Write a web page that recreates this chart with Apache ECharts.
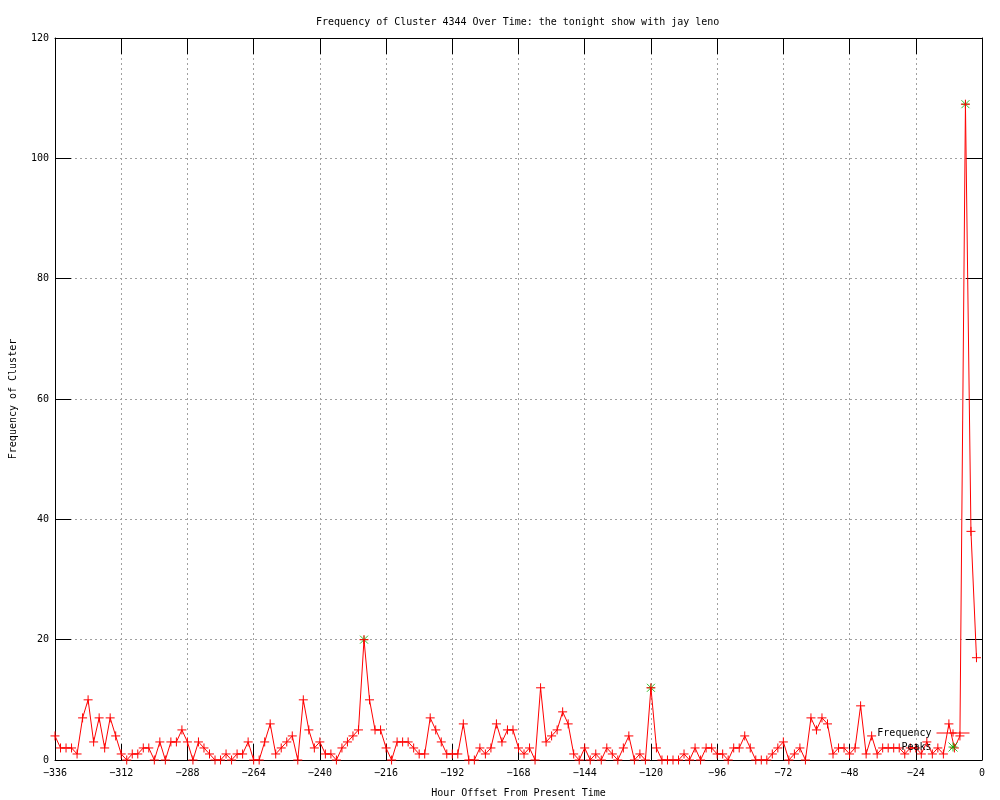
<!DOCTYPE html>
<html>
<head>
<meta charset="utf-8">
<script src="https://cdn.jsdelivr.net/npm/echarts@6/dist/echarts.min.js"></script>
<style>html,body{margin:0;padding:0;background:#fff;}#c{width:1000px;height:800px;}</style>
</head>
<body>
<div id="c"></div>
<script>
var titleText = 'Frequency of Cluster 4344 Over Time: the tonight show with jay leno';
var xAxisName = 'Hour Offset From Present Time';
var yAxisName = 'Frequency of Cluster';

var hours = [
  -336,-334,-332,-330,-328,-326,-324,-322,-320,-318,-316,-314,-312,-310,-308,-306,-304,-302,-300,-298,
  -296,-294,-292,-290,-288,-286,-284,-282,-280,-278,-276,-274,-272,-270,-268,-266,-264,-262,-260,-258,
  -256,-254,-252,-250,-248,-246,-244,-242,-240,-238,-236,-234,-232,-230,-228,-226,-224,-222,-220,-218,
  -216,-214,-212,-210,-208,-206,-204,-202,-200,-198,-196,-194,-192,-190,-188,-186,-184,-182,-180,-178,
  -176,-174,-172,-170,-168,-166,-164,-162,-160,-158,-156,-154,-152,-150,-148,-146,-144,-142,-140,-138,
  -136,-134,-132,-130,-128,-126,-124,-122,-120,-118,-116,-114,-112,-110,-108,-106,-104,-102,-100,-98,
  -96,-94,-92,-90,-88,-86,-84,-82,-80,-78,-76,-74,-72,-70,-68,-66,-64,-62,-60,-58,
  -56,-54,-52,-50,-48,-46,-44,-42,-40,-38,-36,-34,-32,-30,-28,-26,-24,-22,-20,-18,
  -16,-14,-12,-10,-8,-6,-4,-2
];
var frequency = [
  4,2,2,2,1,7,10,3,7,2,7,4,1,0,1,1,2,2,0,3,
  0,3,3,5,3,0,3,2,1,0,0,1,0,1,1,3,0,0,3,6,
  1,2,3,4,0,10,5,2,3,1,1,0,2,3,4,5,20,10,5,5,
  2,0,3,3,3,2,1,1,7,5,3,1,1,1,6,0,0,2,1,2,
  6,3,5,5,2,1,2,0,12,3,4,5,8,6,1,0,2,0,1,0,
  2,1,0,2,4,0,1,0,12,2,0,0,0,0,1,0,2,0,2,2,
  1,1,0,2,2,4,2,0,0,0,1,2,3,0,1,2,0,7,5,7,
  6,1,2,2,1,2,9,1,4,1,2,2,2,2,1,2,2,1,3,1,
  2,1,6,2,4,109,38,17
];
var peakHours = [-224, -120, -6];
var peakValues = [20, 12, 109];

var xTicks = [-336,-312,-288,-264,-240,-216,-192,-168,-144,-120,-96,-72,-48,-24,0];
var yTicks = [0,20,40,60,80,100,120];

var freqData = hours.map(function (h, i) { return [h, frequency[i]]; });
var peakData = peakHours.map(function (h, i) { return [h, peakValues[i]]; });

var FONT = 'DejaVu Sans Mono';
var plusPath = 'path://M0,5L10,5M5,0L5,10';
var starPath = 'path://M0,0L10,10M10,0L0,10M0,5L10,5M5,0L5,10';

function fmtNum(v) { return String(v).replace('-', '\u2212'); }

var chart = echarts.init(document.getElementById('c'), null, {renderer: 'canvas'});
var gridLine = {show: true, lineStyle: {color: '#a0a0a0', type: [2, 3], width: 1}};
var tickStyle = {show: true, inside: true, length: 16, lineStyle: {color: '#000', width: 1}};
var axisLineStyle = {show: true, onZero: false, lineStyle: {color: '#000', width: 1}};

chart.setOption({
  animation: false,
  backgroundColor: '#fff',
  title: {
    text: titleText,
    left: 311,
    top: 12,
    textStyle: {fontFamily: FONT, fontSize: 10, fontWeight: 'normal', color: '#000'}
  },
  legend: {
    orient: 'vertical',
    align: 'right',
    right: 30,
    top: 728,
    itemWidth: 33,
    itemHeight: 9,
    itemGap: 4,
    padding: 0,
    data: ['Frequency', 'Peaks'],
    lineStyle: {width: 1},
    itemStyle: {borderWidth: 1},
    textStyle: {fontFamily: FONT, fontSize: 10, color: '#000'}
  },
  grid: {left: 55, right: 18, top: 38, bottom: 40, containLabel: false, outerBoundsMode: 'none'},
  xAxis: [{
    type: 'value',
    position: 'bottom',
    min: -336, max: 0, interval: 24,
    name: xAxisName,
    nameLocation: 'middle',
    nameGap: 28,
    nameTextStyle: {fontFamily: FONT, fontSize: 10, color: '#000'},
    axisLine: axisLineStyle,
    axisTick: tickStyle,
    axisLabel: {margin: 8, fontFamily: FONT, fontSize: 10, color: '#000',
      formatter: function (v) { return xTicks.indexOf(v) >= 0 ? fmtNum(v) : ''; }},
    splitLine: gridLine
  }, {
    type: 'value',
    position: 'top',
    min: -336, max: 0, interval: 24,
    axisLine: axisLineStyle,
    axisTick: tickStyle,
    axisLabel: {show: false},
    splitLine: {show: false}
  }],
  yAxis: [{
    type: 'value',
    position: 'left',
    min: 0, max: 120, interval: 20,
    name: yAxisName,
    nameLocation: 'middle',
    nameGap: 37,
    nameRotate: 90,
    nameTextStyle: {fontFamily: FONT, fontSize: 10, color: '#000'},
    axisLine: axisLineStyle,
    axisTick: tickStyle,
    axisLabel: {margin: 6, fontFamily: FONT, fontSize: 10, color: '#000',
      formatter: function (v) { return yTicks.indexOf(v) >= 0 ? fmtNum(v) : ''; }},
    splitLine: gridLine
  }, {
    type: 'value',
    position: 'right',
    min: 0, max: 120, interval: 20,
    axisLine: axisLineStyle,
    axisTick: tickStyle,
    axisLabel: {show: false},
    splitLine: {show: false}
  }],
  series: [{
    name: 'Peaks',
    type: 'scatter',
    xAxisIndex: 0, yAxisIndex: 0,
    data: peakData,
    symbol: starPath,
    symbolSize: 8,
    z: 2,
    itemStyle: {color: '#00b000', borderColor: '#00b000', borderWidth: 1},
    emphasis: {disabled: true}
  }, {
    name: 'Frequency',
    type: 'line',
    xAxisIndex: 0, yAxisIndex: 0,
    data: freqData,
    symbol: plusPath,
    symbolSize: 9,
    showAllSymbol: true,
    z: 3,
    lineStyle: {color: '#ff0000', width: 1},
    itemStyle: {color: '#ff0000', borderColor: '#ff0000', borderWidth: 1},
    emphasis: {disabled: true}
  }]
});
</script>
</body>
</html>
